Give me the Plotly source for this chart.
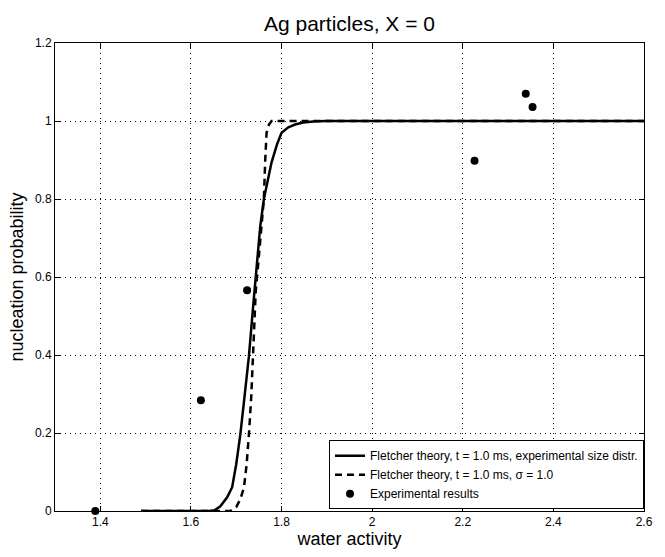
import plotly.graph_objects as go

# Fletcher theory, experimental size distribution (solid)
solid_x = [1.49, 1.60, 1.64, 1.652, 1.665, 1.68, 1.691, 1.70, 1.709, 1.718, 1.728, 1.737, 1.746, 1.753, 1.761, 1.770, 1.778, 1.790, 1.800, 1.815, 1.830, 1.848, 1.870, 1.898, 2.0, 2.6]
solid_y = [0.0, 0.0, 0.0, 0.002, 0.012, 0.035, 0.061, 0.12, 0.196, 0.29, 0.397, 0.52, 0.64, 0.73, 0.80, 0.855, 0.894, 0.94, 0.97, 0.984, 0.991, 0.996, 0.999, 1.0, 1.0, 1.0]

# Fletcher theory, sigma = 1.0 (dashed)
dash_x = [1.49, 1.65, 1.687, 1.70, 1.709, 1.717, 1.723, 1.728, 1.733, 1.737, 1.743, 1.746, 1.752, 1.757, 1.761, 1.764, 1.767, 1.772, 1.778, 1.79, 2.0, 2.6]
dash_y = [0.0, 0.0, 0.0, 0.01, 0.03, 0.06, 0.12, 0.196, 0.29, 0.397, 0.563, 0.60, 0.68, 0.75, 0.80, 0.90, 0.97, 0.99, 1.0, 1.0, 1.0, 1.0]

# Experimental results
exp_x = [1.389, 1.622, 1.724, 2.226, 2.339, 2.354]
exp_y = [0.0, 0.284, 0.566, 0.898, 1.070, 1.036]

x_ticks = [1.4, 1.6, 1.8, 2.0, 2.2, 2.4, 2.6]
x_tick_labels = ["1.4", "1.6", "1.8", "2", "2.2", "2.4", "2.6"]
y_ticks = [0, 0.2, 0.4, 0.6, 0.8, 1.0, 1.2]
y_tick_labels = ["0", "0.2", "0.4", "0.6", "0.8", "1", "1.2"]

FONT = "Liberation Sans, Arial, Helvetica, sans-serif"

fig = go.Figure()
fig.add_trace(go.Scatter(x=solid_x, y=solid_y, mode="lines",
                         line=dict(color="black", width=2.5),
                         name="Fletcher theory, t = 1.0 ms, experimental size distr."))
fig.add_trace(go.Scatter(x=dash_x, y=dash_y, mode="lines",
                         line=dict(color="black", width=2.5, dash="7px,5px"),
                         name="Fletcher theory, t = 1.0 ms, σ = 1.0"))
fig.add_trace(go.Scatter(x=exp_x, y=exp_y, mode="markers",
                         marker=dict(color="black", size=8, symbol="circle"),
                         name="Experimental results", cliponaxis=False))

axis_common = dict(
    showline=True, linecolor="black", linewidth=1, mirror="ticks",
    ticks="inside", ticklen=5, tickcolor="black",
    showgrid=True, gridcolor="black", gridwidth=1, griddash="1px,4px",
    zeroline=False,
    tickfont=dict(family=FONT, size=12, color="black"),
)

fig.update_layout(
    width=665, height=557,
    paper_bgcolor="white", plot_bgcolor="white",
    margin=dict(l=55, r=13, t=43, b=43),
    title=dict(text="Ag particles, X = 0", x=0.5, xref="paper", xanchor="center",
               y=0.958, yref="container", yanchor="middle",
               font=dict(family=FONT, size=21, color="black")),
    xaxis=dict(range=[1.3, 2.6], tickvals=x_ticks, ticktext=x_tick_labels,
               title=dict(text="water activity", standoff=3,
                          font=dict(family=FONT, size=18, color="black")),
               **axis_common),
    yaxis=dict(range=[0, 1.2], tickvals=y_ticks, ticktext=y_tick_labels,
               title=dict(text="nucleation probability", standoff=6,
                          font=dict(family=FONT, size=18, color="black")),
               **axis_common),
    legend=dict(x=1.0, xanchor="right", y=0.004, yanchor="bottom",
                bgcolor="white", bordercolor="black", borderwidth=1,
                font=dict(family=FONT, size=12, color="black"),
                tracegroupgap=0, itemwidth=30),
    showlegend=True,
)

fig.write_html("out.html")
